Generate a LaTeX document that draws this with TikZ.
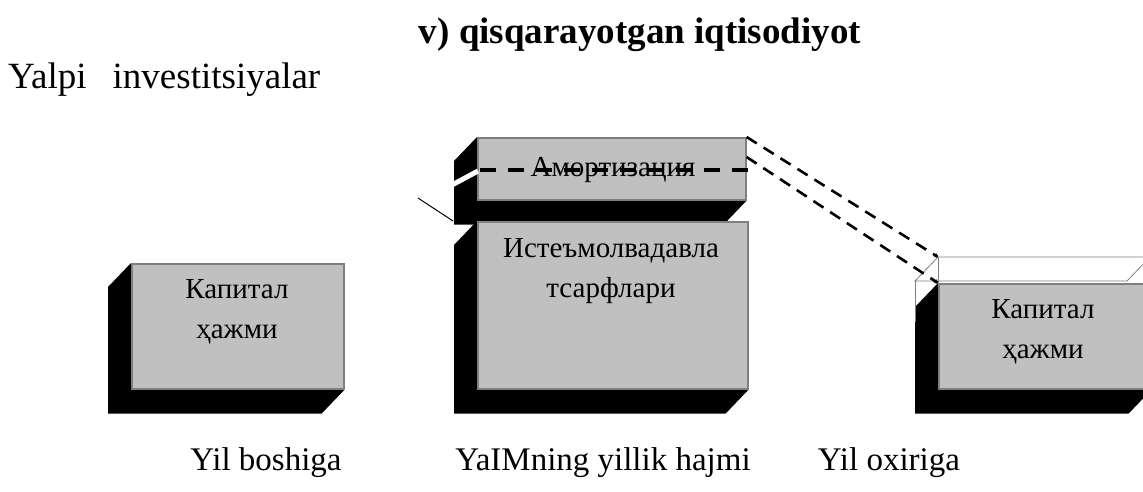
\documentclass[tikz,border=0pt]{standalone}
\usepackage{fontspec}
\setmainfont{Liberation Serif}
\usetikzlibrary{calc,arrows.meta}
\pgfdeclarelayer{bg}
\pgfsetlayers{bg,main}
\definecolor{boxgray}{HTML}{C0C0C0}
\definecolor{edgegray}{HTML}{7F7F7F}
\newcommand\dropshadow[1]{%
  \begin{pgfonlayer}{bg}
    \fill[black] (#1.north west) -- ++(-23,24) |- ($(#1.south east)+(-23,24)$) -- (#1.south east) -- cycle;
  \end{pgfonlayer}}
\begin{document}
\begin{tikzpicture}[x=1pt,y=-1pt,
  frontbox/.style={draw=edgegray, line width=1.6pt, fill=boxgray, inner sep=0pt, anchor=north west},
  boxtext/.style={align=center, inner sep=0pt, font=\rmfamily\fontsize{29}{40}\selectfont},
  label/.style={inner sep=0pt, font=\rmfamily\fontsize{33}{36}\selectfont},
  dashlink/.style={line width=2.6pt, dash pattern=on 12pt off 8pt, -{Straight Barb[length=3pt,width=4pt,line width=0.6pt]}},
  thinedge/.style={draw=edgegray, line width=0.8pt}]
\useasboundingbox (0,0) rectangle (1143,492);

% titles
\node[label, font=\rmfamily\fontsize{37}{40}\selectfont\bfseries] (title) at (640,35) {v) qisqarayotgan iqtisodiyot};
\node[label, anchor=west, font=\rmfamily\fontsize{37}{40}\selectfont] (yalpi) at (8,80) {Yalpi\hspace{26pt}investitsiyalar};

% left box
\node[frontbox, minimum width=212pt, minimum height=125pt] (k1) at (131,263) {};
\dropshadow{k1}
\node[boxtext] (t1) at (237,312) {Капитал\\ҳажми};

% amortization box
\node[frontbox, minimum width=268pt, minimum height=62pt] (am) at (477,137) {};
\dropshadow{am}
\node[boxtext] (tam) at (613,170) {Амортизация};
\draw[white, line width=5pt] (478,171) -- (452,185);
\draw[line width=3.2pt, dash pattern=on 16pt off 12pt] ($(am.west |- tam)+(3,0)$) coordinate (dl) -- ++(275,0) coordinate (dr);

% consumption box
\node[frontbox, minimum width=270pt, minimum height=167pt] (ist) at (477,221) {};
\dropshadow{ist}
\node[boxtext] (tist) at (611,271) {Истеъмолвадавла\\тсарфлари};
\coordinate (lfree) at (418,198);
\draw[line width=1pt] (lfree) -- (ist.north west -| 453,0) ;

% right ghost (white) box
\coordinate (g1) at (938,257);
\coordinate (g2) at (1150,257);
\coordinate (g3) at (1127,281);
\coordinate (g4) at (915,281);
\filldraw[fill=white, thinedge] (g1) -- (g2) -- (g3) -- (g4) -- cycle;
\draw[thinedge] (g4) -- (915,322);
\draw[thinedge] (g1) -- (938,283);

% right box
\node[frontbox, minimum width=212pt, minimum height=105pt] (k2) at (938,283) {};
\dropshadow{k2}
\node[boxtext] (t2) at (1043,332) {Капитал\\ҳажми};

% dashed links
\draw[dashlink] (am.north east) -- (g1);
\draw[dashlink] ($(am.north east)+(0,20)$) -- (k2.north west);

% bottom labels
\node[label, anchor=base] (lb1) at (266,470) {Yil boshiga};
\node[label, anchor=base] (lb2) at (603,470) {YaIMning yillik hajmi};
\node[label, anchor=base] (lb3) at (889,470) {Yil oxiriga};
\end{tikzpicture}
\end{document}
